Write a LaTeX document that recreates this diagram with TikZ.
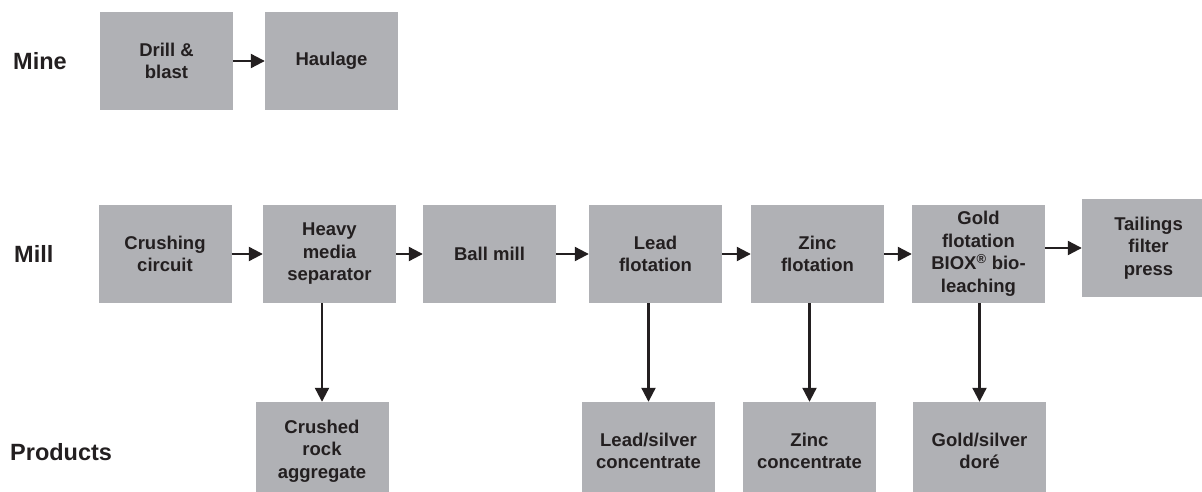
\documentclass[tikz,border=0pt]{standalone}
\usepackage{fontspec}
\setmainfont{Liberation Sans}
\usetikzlibrary{arrows.meta}
\definecolor{boxgray}{RGB}{176,177,181}
\definecolor{ink}{RGB}{35,31,32}
\begin{document}
\begin{tikzpicture}[x=1pt,y=-1pt,
  stage/.style={fill=boxgray, minimum width=133pt, minimum height=98pt,
    inner sep=0pt, align=center, text=ink,
    font=\bfseries\fontsize{18.5}{22.5}\selectfont},
  rowlabel/.style={anchor=west, inner sep=0pt, text=ink,
    font=\bfseries\fontsize{23.5}{28}\selectfont},
  flow/.style={draw=ink, line width=2.2pt, -{Triangle[length=14pt,width=14pt]}}]
\clip (0,0) rectangle (1202,492);
\useasboundingbox (0,0) rectangle (1202,492);

% row labels
\node[rowlabel] (mine) at (13,61) {Mine};
\node[rowlabel] (mill) at (14,254) {Mill};
\node[rowlabel] (prod) at (10,452) {Products};

% mine
\node[stage] (drill) at (166.5,61) {Drill \&\\blast};
\node[stage] (haul) at (331.5,61) {Haulage};

% mill
\node[stage] (crush) at (165,254) {Crushing\\circuit};
\node[stage] (hms) at (329.5,254) {Heavy\\media\\separator};
\node[stage] (ball) at (489.5,254) {Ball mill};
\node[stage] (lead) at (655.5,254) {Lead\\flotation};
\node[stage] (zinc) at (817.5,254) {Zinc\\flotation};
\node[stage] (gold) at (978.5,254) {Gold\\flotation\\BIOX\textsuperscript{®} bio-\\leaching};
\node[stage] (tail) at (1148.5,248) {Tailings\\filter\\press};

% products
\node[stage] (rock) at (322,451) {Crushed\\rock\\aggregate};
\node[stage] (pbag) at (648.5,451) {Lead/silver\\concentrate};
\node[stage] (zncon) at (809.5,451) {Zinc\\concentrate};
\node[stage] (aurag) at (979.5,451) {Gold/silver\\doré};

% flow along the rows
\draw[flow] (drill) -- (haul);
\draw[flow] (crush) -- (hms);
\draw[flow] (hms) -- (ball);
\draw[flow] (ball) -- (lead);
\draw[flow] (lead) -- (zinc);
\draw[flow] (zinc) -- (gold);
\draw[flow] (gold.east |- tail.west) -- (tail.west);

% flow down to the products
\draw[flow] (hms.south -| rock.north) -- (rock.north);
\draw[flow] (lead.south -| pbag.north) -- (pbag.north);
\draw[flow] (zinc.south -| zncon.north) -- (zncon.north);
\draw[flow] (gold.south -| aurag.north) -- (aurag.north);
\end{tikzpicture}
\end{document}
